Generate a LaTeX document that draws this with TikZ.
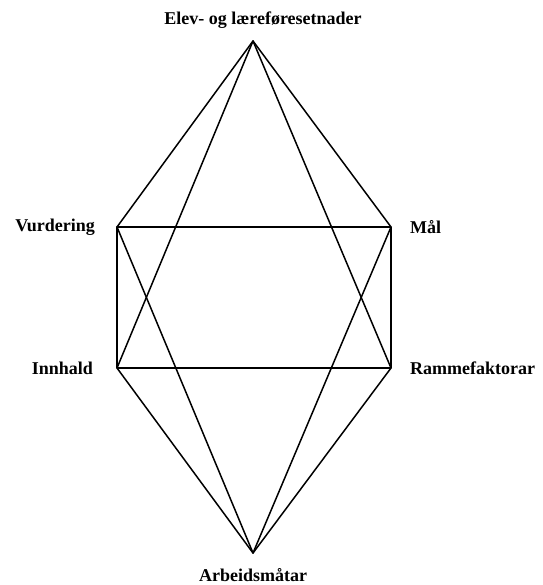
\documentclass[tikz,border=0pt]{standalone}
\usepackage{fontspec}
\setmainfont{Liberation Serif}
\usepackage{tikz}
\usetikzlibrary{positioning}

\begin{document}
\begin{tikzpicture}[
x=1pt,y=-1pt,
lbl/.style={font=\fontsize{18}{20}\selectfont\bfseries,inner sep=0pt},
edge/.style={line width=1.5pt,black,line join=round}
]
\useasboundingbox (0,0) rectangle (542,585);
\coordinate (top) at (253,41);
\coordinate (vur) at (117,227);
\coordinate (maal) at (391,227);
\coordinate (inn) at (117,368);
\coordinate (ramme) at (391,368);
\coordinate (bot) at (253,553);
\node[lbl] (ltop) at (263,20) {Elev- og læreføresetnader};
\node[lbl,left=22pt of vur] (lvur) {Vurdering};
\node[lbl,right=19pt of maal] (lmaal) {Mål};
\node[lbl,left=24pt of inn] (linn) {Innhald};
\node[lbl,right=19pt of ramme] (lramme) {Rammefaktorar};
\node[lbl] (lbot) at (253,575) {Arbeidsmåtar};
\draw[edge] (vur) -- (maal) -- (ramme) -- (inn) -- cycle;
\draw[edge] (vur) -- (top) -- (maal);
\draw[edge] (inn) -- (top) -- (ramme);
\draw[edge] (vur) -- (bot) -- (maal);
\draw[edge] (inn) -- (bot) -- (ramme);
\end{tikzpicture}
\end{document}
